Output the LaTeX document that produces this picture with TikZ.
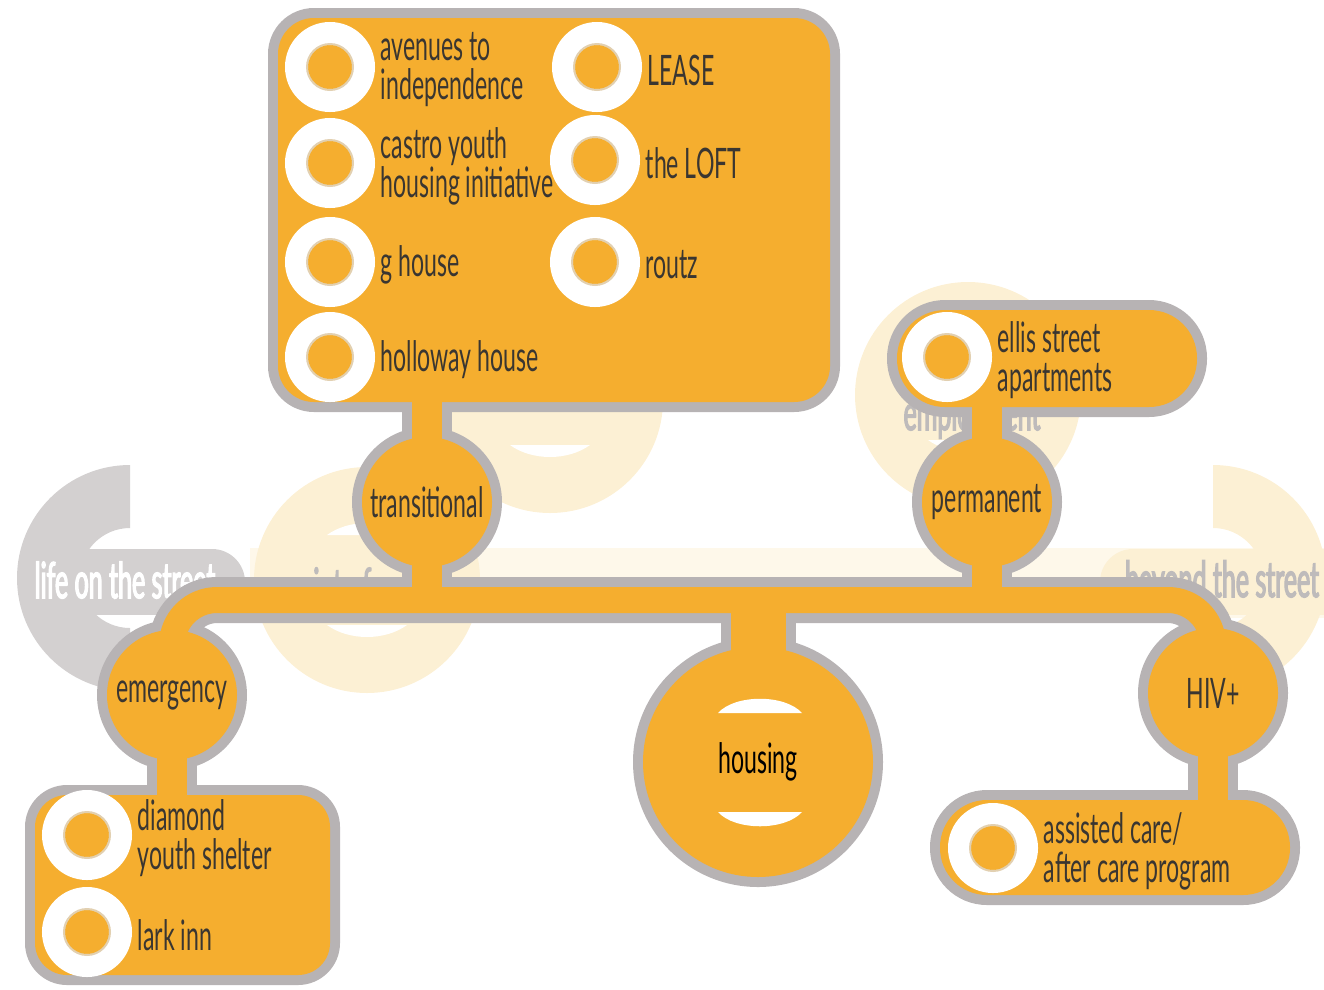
\documentclass[tikz,border=0pt]{standalone}
\usepackage{fontspec}
\setmainfont{Lato}[FakeStretch=0.55]
\newfontfamily\fadefont{Lato}[FakeStretch=0.5, FakeBold=2.5]
\usetikzlibrary{positioning}

\pgfdeclarelayer{fade}
\pgfdeclarelayer{halo}
\pgfdeclarelayer{stem}
\pgfsetlayers{fade,halo,stem,main}

\definecolor{amber}{HTML}{F5AE2F}
\definecolor{rim}{HTML}{B7B3B4}
\definecolor{ink}{HTML}{3A3631}
\definecolor{cream}{HTML}{FCF0D4}
\definecolor{pale}{HTML}{FEF8EA}
\definecolor{ash}{HTML}{D3D0D0}
\definecolor{ashtext}{HTML}{BEBBBB}

\tikzset{
	hub/.style={circle, fill=amber, inner sep=0pt, outer sep=0pt, minimum size=130pt, text=ink, font=\fontsize{42}{39}\selectfont},
	panel/.style={rectangle, fill=amber, inner sep=0pt, outer sep=0pt},
	ring/.style={circle, draw=white, line width=23pt, minimum size=67pt, inner sep=0pt, outer sep=0pt},
	item/.style={anchor=west, align=left, inner sep=1pt, text=ink, font=\fontsize{42}{39}\selectfont},
	fadetxt/.style={inner sep=0pt, font=\fadefont\fontsize{50}{50}\selectfont},
	halo/.style={draw=rim, fill=rim, line width=20pt},
	stemrim/.style={draw=rim, line width=50pt},
	stemfill/.style={draw=amber, line width=30pt},
}

\begin{document}
\begin{tikzpicture}[x=1pt, y=-1pt]
	\useasboundingbox (0,0) rectangle (1324,989);
	\clip (0,0) rectangle (1324,989);

	% faded stages behind
	\begin{pgfonlayer}{fade}
		\fill[pale] (250,548) rectangle (1324,618);
		\foreach \cx/\cy in {367/580, 550/400, 968/395}
		{
			\fill[cream] (\cx,\cy) circle (113);
			\fill[white] (\cx-40,\cy-45) .. controls (\cx-18,\cy-61) and (\cx+18,\cy-61) .. (\cx+40,\cy-45) -- cycle;
			\fill[white] (\cx-40,\cy+45) .. controls (\cx-18,\cy+61) and (\cx+18,\cy+61) .. (\cx+40,\cy+45) -- cycle;
		}
		\begin{scope}
			\clip (0,450) rectangle (130,710);
			\fill[ash, even odd rule] (130,578) circle (113) (130,578) circle (50);
		\end{scope}
		\fill[ash] (60,549) rectangle (212,615);
		\fill[ash] (212,582) circle (33);
		\begin{scope}
			\clip (1213,450) rectangle (1400,710);
			\fill[cream, even odd rule] (1213,578) circle (113) (1213,578) circle (50);
		\end{scope}
		\fill[cream] (1133,549) rectangle (1324,615);
		\fill[cream] (1133,582) circle (33);
		\node[fadetxt, text=white] (life) at (125,580) {life on the street};
		\node[fadetxt, text=ashtext] (beyond) at (1222,583) {beyond the street};
		\node[fadetxt, text=ashtext, anchor=west] (point) at (285,590) {point of c};
		\node[fadetxt, text=ashtext] (employ) at (972,416) {employment};
	\end{pgfonlayer}

	% boxes and hubs
	\node[panel, minimum width=552pt, minimum height=384pt, rounded corners=36pt] (topbox) at (554,210) {};
	\node[panel, minimum width=295pt, minimum height=180pt, rounded corners=32pt] (shelter) at (182.5,885) {};
	\node[panel, minimum width=300pt, minimum height=97pt, rounded corners=48pt] (ellis) at (1047,358.5) {};
	\node[panel, minimum width=350pt, minimum height=95pt, rounded corners=47pt] (assist) at (1115,847.5) {};
	\node[hub] (trans) at (427,502) {transitional};
	\node[hub] (perm) at (987,502) {permanent};
	\node[hub] (emer) at (172,695) {emergency};
	\node[hub] (hiv) at (1213,693) {HIV+};
	\node[hub, minimum size=230pt, text=black] (housing) at (758,762) {housing};
	\coordinate (bar) at (700,600);

	\fill[white] (718,713) .. controls (735,694) and (785,694) .. (802,713) -- cycle;
	\fill[white] (718,812) .. controls (735,831) and (785,831) .. (802,812) -- cycle;

	% grey rims
	\begin{pgfonlayer}{halo}
		\foreach \n in {trans,perm,emer,hiv}
			\fill[rim] (\n.center) circle (75);
		\fill[rim] (housing.center) circle (125);
		\draw[halo, rounded corners=36pt] (topbox.north west) rectangle (topbox.south east);
		\draw[halo, rounded corners=32pt] (shelter.north west) rectangle (shelter.south east);
		\draw[halo, rounded corners=48pt] (ellis.north west) rectangle (ellis.south east);
		\draw[halo, rounded corners=47pt] (assist.north west) rectangle (assist.south east);
		\draw[stemrim] (trans) -- (trans |- topbox.south);
		\draw[stemrim] (trans) -- (trans |- bar);
		\draw[stemrim] (perm) -- (perm |- ellis.south);
		\draw[stemrim] (perm) -- (perm |- bar);
		\draw[stemrim] (emer) -- (emer |- shelter.north);
		\draw[stemrim] (hiv) -- (hiv |- assist.north);
		\draw[stemrim, line width=75pt] (housing) -- (housing |- bar);
		\draw[rim, line width=46pt, rounded corners=45pt] (emer.center) |- (bar) -| (hiv.center);
	\end{pgfonlayer}

	% orange links
	\begin{pgfonlayer}{stem}
		\draw[stemfill] (trans.center) -- (trans |- topbox.center);
		\draw[stemfill] (trans.center) -- (trans |- bar);
		\draw[stemfill] (perm.center) -- (perm |- ellis.center);
		\draw[stemfill] (perm.center) -- (perm |- bar);
		\draw[stemfill] (emer.center) -- (emer |- shelter.center);
		\draw[stemfill] (hiv.center) -- (hiv |- assist.center);
		\draw[stemfill, line width=55pt] (housing.center) -- (housing |- bar);
		\draw[amber, line width=26pt, rounded corners=45pt] (emer.center) |- (bar) -| (hiv.center);
	\end{pgfonlayer}

	% places
	\foreach \x/\y/\n/\t in {
		330/67/avenues/{avenues to\\independence},
		330/163/castro/{castro youth\\housing initiative},
		330/262/ghouse/{g house},
		330/357/holloway/{holloway house},
		597/67/lease/{LEASE},
		595/160/loft/{the LOFT},
		595/262/routz/{routz},
		87/835/diamond/{diamond\\youth shelter},
		87/932/lark/{lark inn},
		947/357/ellisst/{ellis street\\apartments},
		993/848/care/{assisted care/\\after care program}}
	{
		\node[ring] (\n) at (\x,\y) {};
		\draw[amber!70!black, opacity=0.35, line width=2pt] (\n.center) circle (23);
		\node[item, right=16pt of \n, yshift=-3pt] (\n-t) {\t};
	}
\end{tikzpicture}
\end{document}
